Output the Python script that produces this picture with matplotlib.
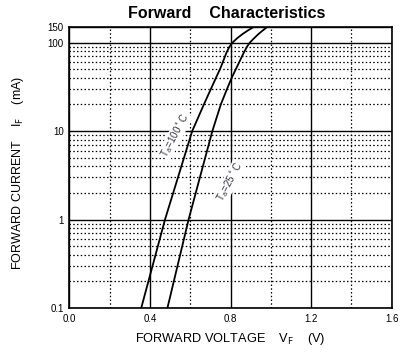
import matplotlib
matplotlib.use("Agg")
import matplotlib.pyplot as plt
from matplotlib.ticker import FixedLocator, NullFormatter

plt.rcParams['font.family'] = ['Liberation Sans', 'DejaVu Sans']

# forward current (mA) and voltage (V)
i_100 = [0.1, 1, 10, 20, 30, 40, 52, 77, 90, 100, 112, 125, 137, 150]
v_100 = [0.357, 0.475, 0.610, 0.668, 0.703, 0.728, 0.751, 0.780, 0.795, 0.810, 0.833, 0.860, 0.886, 0.915]
i_25 = [0.1, 1, 10, 20, 30, 40, 52, 77, 90, 100, 112, 125, 137, 150]
v_25 = [0.487, 0.592, 0.710, 0.752, 0.783, 0.806, 0.830, 0.866, 0.882, 0.896, 0.917, 0.939, 0.960, 0.982]

x_ticks = [0.0, 0.4, 0.8, 1.2, 1.6]
x_minor = [0.2, 0.6, 1.0, 1.4]
y_ticks = [0.1, 1, 10, 100, 150]
y_labels = ["0.1", "1", "10", "100", "150"]
y_minor = [m * d for d in (0.1, 1, 10) for m in range(2, 10)]

fig = plt.figure(figsize=(4.15, 3.58), dpi=100)
ax = fig.add_axes([69.3 / 415, 1 - 308 / 358, 322.4 / 415, 281 / 358])

ax.set_yscale('log')
ax.set_xlim(0, 1.6)
ax.set_ylim(0.1, 150)

ax.set_xticks(x_ticks)
ax.set_xticklabels([f"{t:.1f}" for t in x_ticks])
ax.xaxis.set_minor_locator(FixedLocator(x_minor))
ax.set_yticks(y_ticks)
ax.set_yticklabels(y_labels)
ax.yaxis.set_minor_locator(FixedLocator(y_minor))
ax.yaxis.set_minor_formatter(NullFormatter())
ax.tick_params(which='both', length=0, labelsize=7, pad=4)

ax.grid(which='major', color='black', linestyle='-', linewidth=1.0)
ax.grid(which='minor', color='black', linestyle=(0, (1.2, 1.8)), linewidth=0.9)
for s in ax.spines.values():
    s.set_linewidth(1.2)

ax.plot(v_100, i_100, color='black', linewidth=1.3)
ax.plot(v_25, i_25, color='black', linewidth=1.3)

ax.text(0.525, 8.9, r"T$_{\rm a}$=100$^\circ$C", rotation=62, fontsize=7,
        color='#333344', ha='center', va='center',
        bbox=dict(facecolor='white', edgecolor='none', pad=0.3))
ax.text(0.797, 2.7, r"T$_{\rm a}$=25$^\circ$C", rotation=62, fontsize=7,
        color='#333344', ha='center', va='center',
        bbox=dict(facecolor='white', edgecolor='none', pad=0.3))

fig.text(227 / 415, 1 - 14 / 358, "Forward    Characteristics", fontsize=11.5,
         fontweight='bold', ha='center', va='center')
fig.text(230 / 415, 1 - 339 / 358, r"FORWARD VOLTAGE    V$_{\rm F}$    (V)",
         fontsize=9.2, ha='center', va='center')
fig.text(18 / 415, 1 - 173 / 358, r"FORWARD CURRENT    I$_{\rm F}$    (mA)",
         fontsize=9, ha='center', va='center', rotation=90)

fig.savefig("out.png", dpi=100)
